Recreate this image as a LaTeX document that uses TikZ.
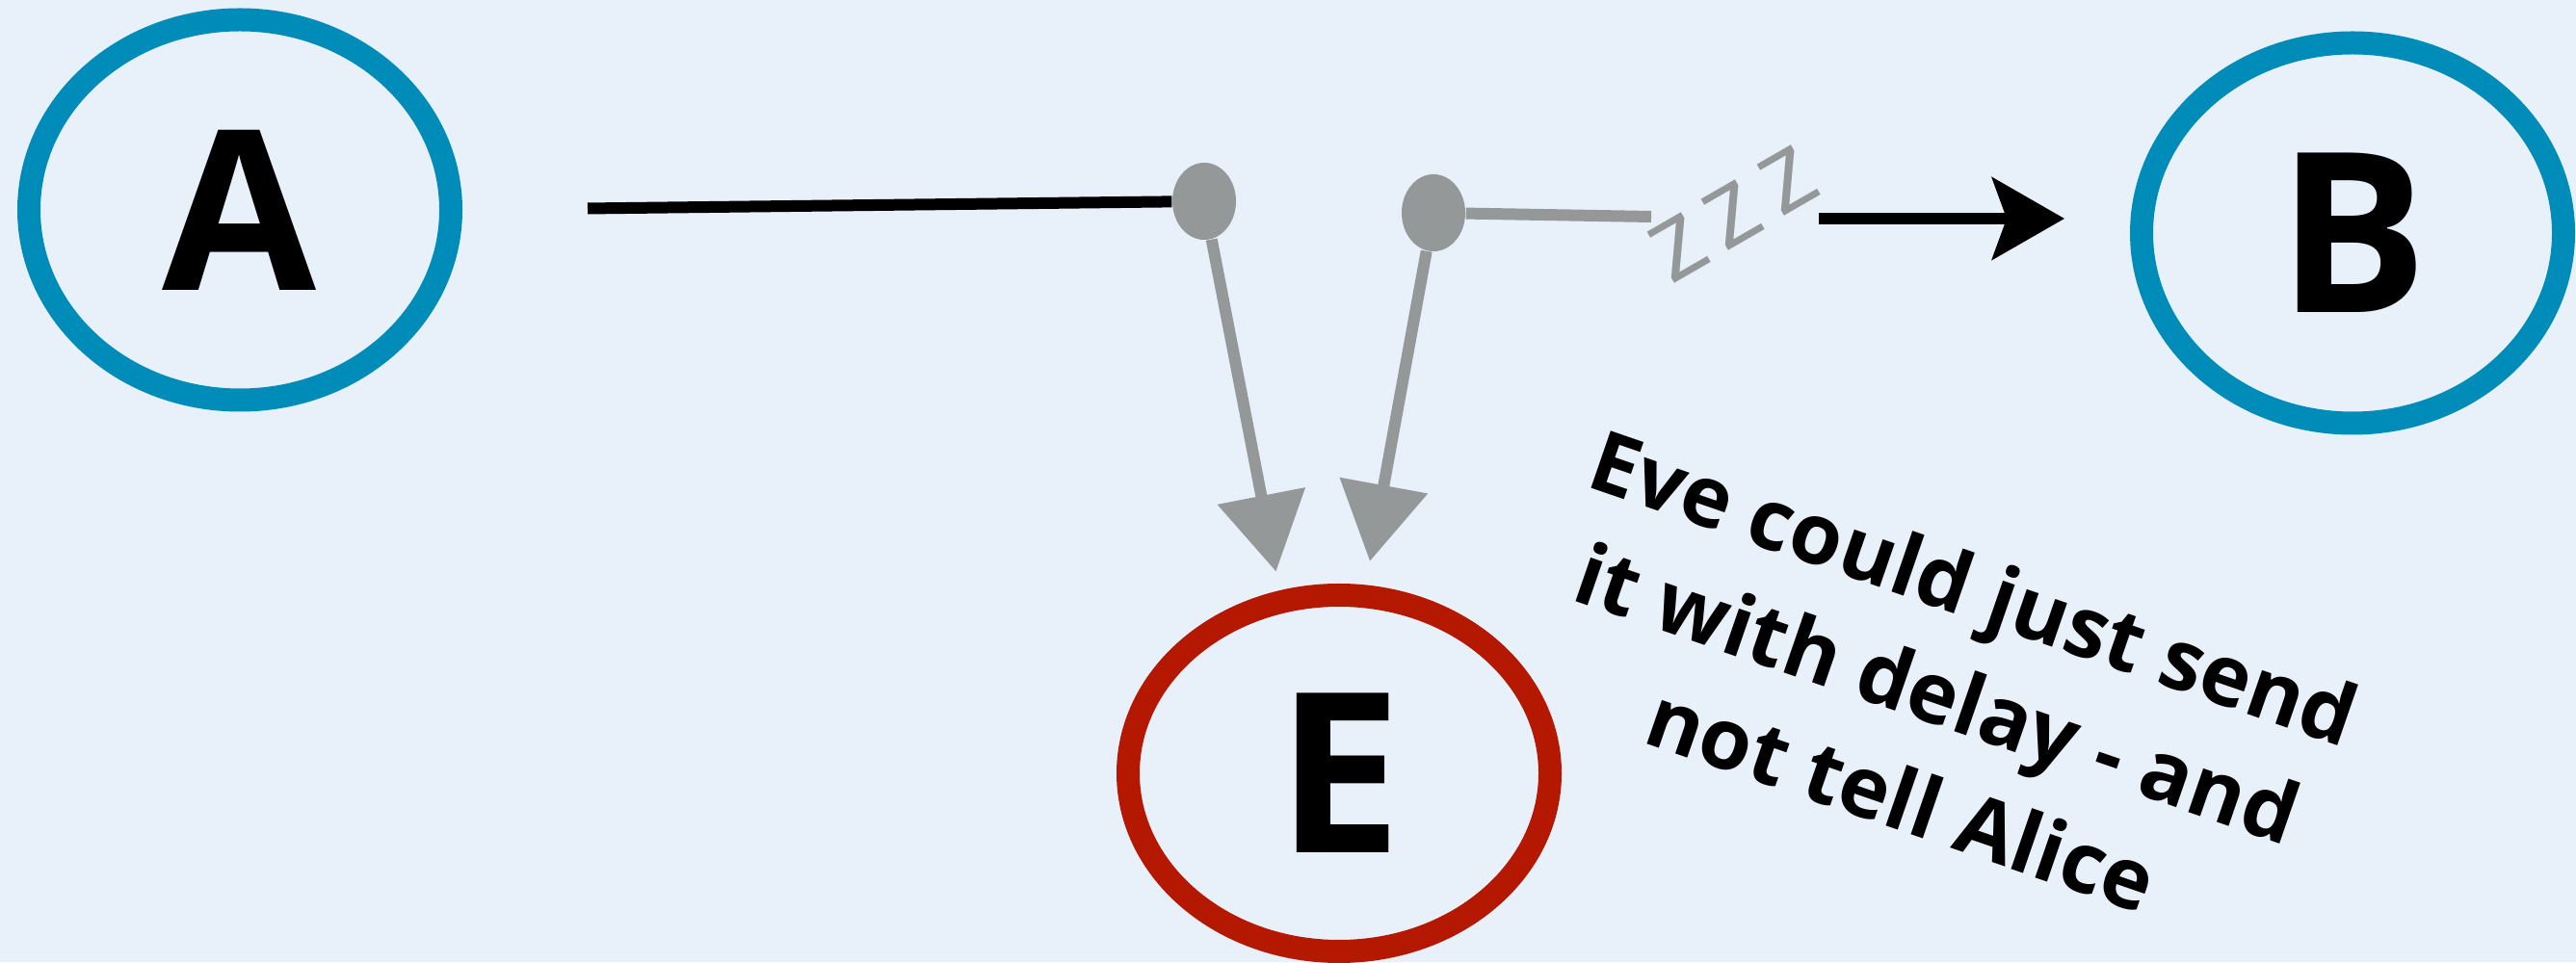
\documentclass[tikz,border=0pt]{standalone}
\usepackage{fontspec}
\setmainfont{Open Sans}
\usetikzlibrary{positioning, shapes.geometric, arrows.meta}
\definecolor{PartyBlue}{RGB}{0, 140, 185}
\definecolor{EveRed}{RGB}{180, 24, 0}
\definecolor{WireGrey}{RGB}{148, 152, 152}
\definecolor{PaperBlue}{RGB}{232, 240, 250}

\begin{document}
\begin{tikzpicture}[
    party/.style={draw=#1, ellipse, line width=0.24cm, minimum width=4.38cm, minimum height=3.95cm, font=\fontsize{66}{66}\selectfont\bfseries},
    tap/.style={ellipse, fill=WireGrey, minimum width=0.66cm, minimum height=0.8cm, inner sep=0pt},
    zee/.style={text=WireGrey, rotate=30, inner sep=0pt, font=\fontsize{32}{32}\selectfont}
  ]
    % Background
    \fill[PaperBlue] (0,0) rectangle (26.74,9.99);
    \useasboundingbox (0,0) rectangle (26.74,9.99);

    % Alice, Bob and Eve
    \node[party=PartyBlue] (A) at (2.49,7.81) {A};
    \node[party=PartyBlue] (B) at (24.42,7.57) {B};
    \node[party=EveRed, minimum height=3.7cm] (E) at (13.90,1.96) {E};

    % Taps on the wire
    \node[tap] (tap1) at (12.50,7.90) {};
    \node[tap] (tap2) at (14.88,7.78) {};
    \coordinate (wireEnd) at (17.14,7.74);
    \coordinate (sendStart) at (18.88,7.72);

    \draw[line width=0.12cm, shorten <=1.3cm] (A.east) -- (tap1);
    \draw[WireGrey, line width=0.12cm, -{Triangle[length=0.8cm, width=0.9cm]}, shorten >=0.2cm] (tap1) -- (E.108);
    \draw[WireGrey, line width=0.12cm, -{Triangle[length=0.8cm, width=0.9cm]}, shorten >=0.25cm] (tap2) -- (E.82);
    \draw[WireGrey, line width=0.12cm] (tap2) -- (wireEnd);

    % Delay
    \node[zee] (z1) at (17.42,7.42) {z};
    \node[zee] (z2) at (17.98,7.76) {z};
    \node[zee] (z3) at (18.56,8.12) {z};

    \draw[line width=0.12cm, -{Stealth[length=0.75cm, width=0.85cm, inset=0.15cm]}, shorten >=0.68cm] (sendStart) -- (sendStart -| B.west);

    \node[rotate=-19, align=center, font=\fontsize{25}{33}\selectfont\bfseries] (note) at (20.12,2.80)
      {Eve could just send\\it with delay - and\\not tell Alice};
\end{tikzpicture}
\end{document}
